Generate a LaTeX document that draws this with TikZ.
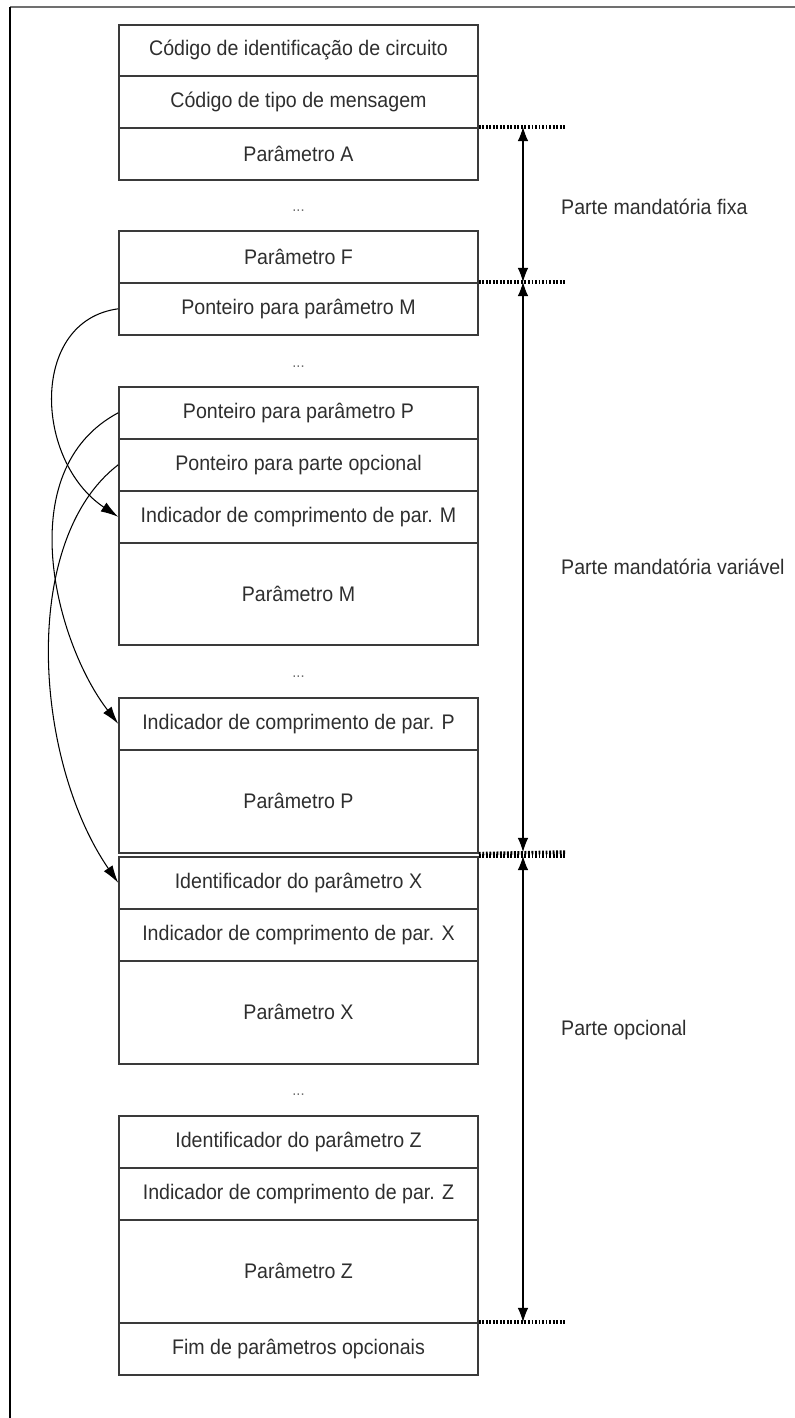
\documentclass[tikz,border=0pt]{standalone}
\usepackage{fontspec}
\setmainfont{Liberation Sans}[FakeStretch=0.93]
\usetikzlibrary{arrows.meta}
\definecolor{ink}{HTML}{2E2E2E}
\definecolor{rule}{HTML}{3A3A3A}
\definecolor{greyline}{HTML}{707070}
\tikzset{
  every node/.style={font=\fontsize{12}{14}\selectfont, text=ink},
  cell/.style={draw=rule, line width=0.9pt, minimum width=359*0.02cm, inner sep=0pt, anchor=north},
  gap/.style={font=\small, text=greyline},
  part/.style={anchor=west},
  ptr/.style={-{Latex[length=10pt,width=6pt]}, line width=0.6pt},
  span/.style={{Latex[length=8pt,width=6pt]}-{Latex[length=8pt,width=6pt]}, line width=0.6pt},
  limit/.style={draw=black, line width=2pt, dash pattern=on 1.1pt off 0.9pt},
}

\begin{document}
\begin{tikzpicture}[x=0.02cm, y=-0.02cm]
  \useasboundingbox (0,0) rectangle (795,1418);
  % page frame (top and left only)
  \draw[greyline, line width=1.1pt] (10,7) -- (795,7);
  \draw[black, line width=0.6pt] (10,7) -- (10,1418);

  % message fields: name / top / height / text
  \foreach \n/\y/\h/\t in {
      cod/24/51/Código de identificação de circuito,
      tipo/75/52/Código de tipo de mensagem,
      parA/127/52/Parâmetro A,
      parF/230/52/Parâmetro F,
      ptrM/282/52/Ponteiro para parâmetro M,
      ptrP/386/52/Ponteiro para parâmetro P,
      ptrOpt/438/52/Ponteiro para parte opcional,
      indM/490/52/Indicador de comprimento de par. M,
      parM/542/102/Parâmetro M,
      indP/697/52/Indicador de comprimento de par. P,
      parP/749/103/Parâmetro P,
      idX/856/52/Identificador do parâmetro X,
      indX/908/52/Indicador de comprimento de par. X,
      parX/960/103/Parâmetro X,
      idZ/1115/52/Identificador do parâmetro Z,
      indZ/1167/52/Indicador de comprimento de par. Z,
      parZ/1219/103/Parâmetro Z,
      fim/1322/52/Fim de parâmetros opcionais} {
    \node[cell, minimum height=\h*0.02cm] (\n) at (298.5,\y) {\t};
  }

  % omitted fields
  \foreach \n/\y in {g1/211, g2/367, g3/677, g4/1095} {
    \node[gap] (\n) at (298.5,\y) {...};
  }

  % part limits
  \coordinate (l1) at (566,127);
  \coordinate (l2) at (566,282);
  \coordinate (l3) at (566,852);
  \coordinate (l3b) at (566,856);
  \coordinate (l4) at (566,1322);
  \draw[limit] (parA.north east) -- (l1);
  \draw[limit] (ptrM.north east) -- (l2);
  \draw[limit] (parP.south east) -- (l3);
  \draw[limit] (idX.north east) -- (l3b);
  \draw[limit] (fim.north east) -- (l4);

  % part spans
  \coordinate (s1) at (523,127);
  \coordinate (s2) at (523,282);
  \coordinate (s3) at (523,852);
  \coordinate (s3b) at (523,856);
  \coordinate (s4) at (523,1322);
  \draw[span] (s1) -- (s2);
  \draw[span] (s2) -- (s3);
  \draw[span] (s3b) -- (s4);

  \node[part] (fixa) at (555,207) {Parte mandatória fixa};
  \node[part] (var) at (555,567) {Parte mandatória variável};
  \node[part] (opc) at (555,1030) {Parte opcional};

  % pointers
  \draw[ptr] (ptrM.west) .. controls +(-89,12) and +(-84,-56) .. (indM.west);
  \draw[ptr] (ptrP.west) .. controls +(-109,58) and +(-62,-80) .. (indP.west);
  \draw[ptr] (ptrOpt.west) .. controls +(-99,76) and +(-84,-122) .. (idX.west);
\end{tikzpicture}
\end{document}
